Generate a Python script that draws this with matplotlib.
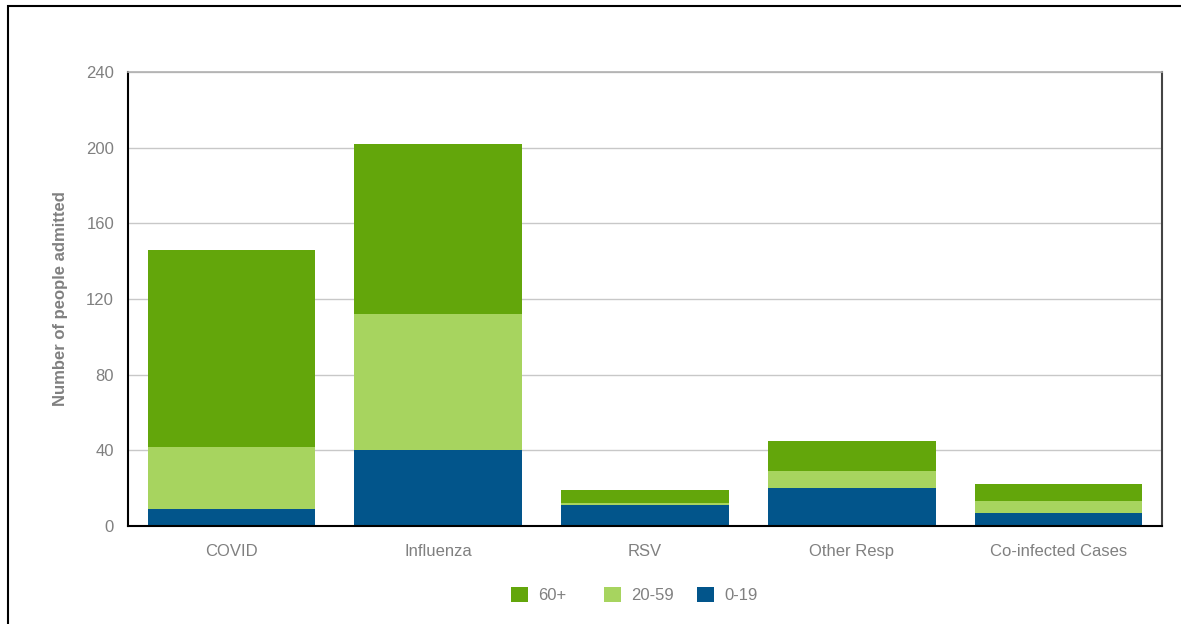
import matplotlib.pyplot as plt
import numpy as np
from matplotlib.patches import Rectangle

categories = ['COVID', 'Influenza', 'RSV', 'Other Resp', 'Co-infected Cases']
age_0_19 = [9, 40, 11, 20, 7]
age_20_59 = [33, 72, 1, 9, 6]
age_60_plus = [104, 90, 7, 16, 9]
y_ticks = [0, 40, 80, 120, 160, 200, 240]

plt.rcParams['font.family'] = ['Liberation Sans', 'DejaVu Sans']

W, H = 1181, 624
fig = plt.figure(figsize=(W / 100, H / 100), dpi=100)
ax = fig.add_axes([128 / W, 1 - 526 / H, (1162 - 128) / W, (526 - 72) / H])

x = np.arange(len(categories))
b1 = np.array(age_0_19)
b2 = b1 + np.array(age_20_59)
ax.bar(x, age_0_19, width=0.81, color='#02558B', label='0-19', zorder=3)
ax.bar(x, age_20_59, width=0.81, bottom=b1, color='#A7D45F', label='20-59', zorder=3)
ax.bar(x, age_60_plus, width=0.81, bottom=b2, color='#63A60B', label='60+', zorder=3)

ax.set_xlim(-0.5, len(categories) - 0.5)
ax.set_ylim(0, 240)
ax.set_yticks(y_ticks)
ax.set_xticks(x)
ax.set_xticklabels(categories)
ax.tick_params(axis='both', length=0, colors='#808080', labelsize=12)
ax.tick_params(axis='x', pad=13)
ax.tick_params(axis='y', pad=10)
ax.yaxis.grid(True, color='#c8c8c8', linewidth=1, zorder=0)

ax.spines['left'].set_color('black')
ax.spines['left'].set_linewidth(1.5)
ax.spines['bottom'].set_color('black')
ax.spines['bottom'].set_linewidth(1.5)
ax.spines['bottom'].set_zorder(4)
ax.spines['right'].set_color('#444444')
ax.spines['right'].set_linewidth(1.5)
ax.spines['top'].set_color('#b0b0b0')
ax.spines['top'].set_linewidth(1.2)

ax.set_ylabel('Number of people admitted', color='#808080', fontsize=12,
              fontweight='bold', labelpad=13)

# legend entries sit at fixed slots, like the original
handles, labels = ax.get_legend_handles_labels()
slots = [511, 604, 697]
for h, lab, sx in zip(handles[::-1], labels[::-1], slots):
    leg = fig.legend([h], [lab], loc='center left',
                     bbox_to_anchor=(sx / W, 1 - 595 / H), frameon=False,
                     fontsize=12, handlelength=1.0, handleheight=1.0,
                     handletextpad=0.65, borderpad=0, borderaxespad=0)
    for t in leg.get_texts():
        t.set_color('#808080')

fig.add_artist(Rectangle((8 / W, -0.1), 1.2, 1 - 6 / H + 0.1,
                         transform=fig.transFigure, fill=False,
                         edgecolor='black', linewidth=1.5))

fig.savefig('out.png', dpi=100)
